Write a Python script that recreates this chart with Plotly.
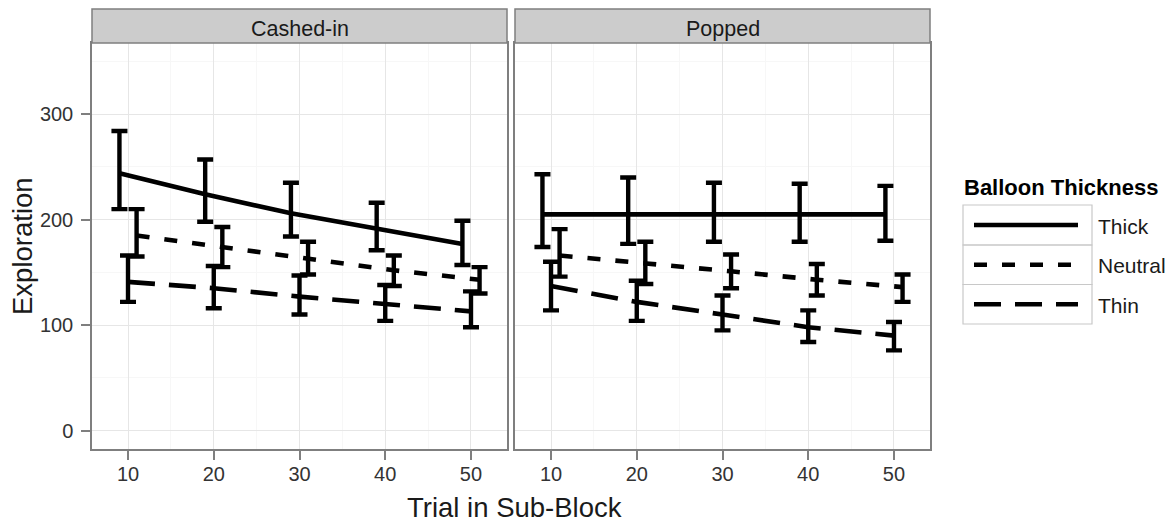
import plotly.graph_objects as go

# ---------------- data ----------------
trials = [10, 20, 30, 40, 50]
panels = ["Cashed-in", "Popped"]
series = ["Thick", "Neutral", "Thin"]

cashed_thick_mean = [244, 224, 206, 191, 177]
cashed_thick_lo = [210, 198, 184, 171, 157]
cashed_thick_hi = [284, 257, 235, 216, 199]

cashed_neutral_mean = [185, 174, 163, 152, 143]
cashed_neutral_lo = [165, 155, 148, 137, 130]
cashed_neutral_hi = [210, 193, 179, 166, 155]

cashed_thin_mean = [141, 135, 127, 120, 113]
cashed_thin_lo = [122, 116, 110, 104, 98]
cashed_thin_hi = [166, 156, 147, 138, 132]

popped_thick_mean = [205, 205, 205, 205, 205]
popped_thick_lo = [174, 177, 179, 179, 180]
popped_thick_hi = [243, 240, 235, 234, 232]

popped_neutral_mean = [166, 159, 151, 143, 136]
popped_neutral_lo = [146, 139, 135, 128, 122]
popped_neutral_hi = [191, 179, 167, 158, 148]

popped_thin_mean = [137, 122, 110, 98, 90]
popped_thin_lo = [114, 104, 95, 84, 76]
popped_thin_hi = [160, 142, 128, 114, 103]

y_ticks = [0, 100, 200, 300]
x_ticks = [10, 20, 30, 40, 50]

legend_title = "Balloon Thickness"
x_title = "Trial in Sub-Block"
y_title = "Exploration"

# ---------------- styling ----------------
DODGE = {"Thick": -1, "Thin": 0, "Neutral": 1}
DASH = {"Thick": "solid", "Neutral": "13px,15px", "Thin": "27px,14px"}
FONT = "Liberation Sans, Arial, sans-serif"
W, H = 1170, 531

data = {
    "Cashed-in": {
        "Thick": (cashed_thick_mean, cashed_thick_lo, cashed_thick_hi),
        "Neutral": (cashed_neutral_mean, cashed_neutral_lo, cashed_neutral_hi),
        "Thin": (cashed_thin_mean, cashed_thin_lo, cashed_thin_hi),
    },
    "Popped": {
        "Thick": (popped_thick_mean, popped_thick_lo, popped_thick_hi),
        "Neutral": (popped_neutral_mean, popped_neutral_lo, popped_neutral_hi),
        "Thin": (popped_thin_mean, popped_thin_lo, popped_thin_hi),
    },
}

fig = go.Figure()
for pi, panel in enumerate(panels):
    xa = "x" if pi == 0 else "x2"
    ya = "y" if pi == 0 else "y2"
    for s in series:
        mean, lo, hi = data[panel][s]
        fig.add_trace(go.Scatter(
            x=[t + DODGE[s] for t in trials], y=mean,
            mode="lines", name=s, legendgroup=s,
            showlegend=False,
            line=dict(color="black", width=4.6, dash=DASH[s]),
            error_y=dict(type="data", symmetric=False,
                         array=[h - m for h, m in zip(hi, mean)],
                         arrayminus=[m - l for m, l in zip(mean, lo)],
                         color="black", thickness=4.4, width=8),
            xaxis=xa, yaxis=ya,
        ))

px = lambda v: v / W
py = lambda v: 1 - v / H

ydom = [py(449), py(43)]
x1dom = [px(92), px(507)]
x2dom = [px(515), px(930)]

common_x = dict(range=[5.8, 54.2], tickvals=x_ticks, ticks="outside", ticklen=9,
                tickwidth=1.5, tickcolor="#7f7f7f", showline=True, mirror=True,
                linecolor="#7f7f7f", linewidth=1.5, showgrid=True, gridcolor="#e6e6e6",
                gridwidth=1, zeroline=False, ticklabelstandoff=-3,
                minor=dict(dtick=5, tick0=5, showgrid=True, gridcolor="#f7f7f7", ticklen=0),
                tickfont=dict(family=FONT, size=20, color="#333333"))
common_y = dict(range=[-17.5, 367.5], tickvals=y_ticks, showline=True, mirror=True,
                linecolor="#7f7f7f", linewidth=1.5, showgrid=True, gridcolor="#e6e6e6",
                gridwidth=1, zeroline=False, domain=ydom,
                minor=dict(dtick=50, tick0=50, showgrid=True, gridcolor="#f7f7f7", ticklen=0),
                tickfont=dict(family=FONT, size=20, color="#333333"))

fig.update_layout(
    width=W, height=H, margin=dict(l=0, r=0, t=0, b=0),
    paper_bgcolor="white", plot_bgcolor="white",
    font=dict(family=FONT, color="black"),
    xaxis=dict(domain=x1dom, anchor="y", **common_x),
    xaxis2=dict(domain=x2dom, anchor="y2", **common_x),
    yaxis=dict(anchor="x", ticks="outside", ticklen=9, tickwidth=1.5, tickcolor="#7f7f7f",
               ticklabelstandoff=4, **common_y),
    yaxis2=dict(anchor="x2", matches="y", showticklabels=False, ticks="", **common_y),
    showlegend=False,
)

shapes = []
annotations = []

# facet strips
for dom, panel in zip([x1dom, x2dom], panels):
    shapes.append(dict(type="rect", xref="paper", yref="paper",
                       x0=dom[0], x1=dom[1], y0=py(43), y1=py(9),
                       fillcolor="#cccccc", line=dict(color="#7f7f7f", width=1.5)))
    annotations.append(dict(text=panel, xref="paper", yref="paper",
                            x=(dom[0] + dom[1]) / 2, y=py(29), xanchor="center", yanchor="middle",
                            showarrow=False, font=dict(family=FONT, size=21.5, color="#1a1a1a")))

# legend (keys drawn in a ggplot-like boxed layout)
annotations.append(dict(text="<b>" + legend_title + "</b>", xref="paper", yref="paper",
                        x=px(962), y=py(187), xanchor="left", yanchor="middle",
                        showarrow=False, font=dict(family=FONT, size=22, color="black")))
rows = [(205, 245), (245, 284.5), (284.5, 324)]
for s, (top, bot) in zip(series, rows):
    mid = (top + bot) / 2
    shapes.append(dict(type="rect", xref="paper", yref="paper",
                       x0=px(963), x1=px(1092), y0=py(bot), y1=py(top),
                       fillcolor="rgba(0,0,0,0)", line=dict(color="#c8c8c8", width=1.2)))
    shapes.append(dict(type="line", xref="paper", yref="paper",
                       x0=px(974), x1=px(1078), y0=py(mid), y1=py(mid),
                       line=dict(color="black", width=4.6, dash=DASH[s])))
    annotations.append(dict(text=s, xref="paper", yref="paper",
                            x=px(1096), y=py(mid + 1), xanchor="left", yanchor="middle",
                            showarrow=False, font=dict(family=FONT, size=21, color="#1a1a1a")))

# axis titles
annotations.append(dict(text=y_title, xref="paper", yref="paper",
                        x=px(23), y=py(246), xanchor="center", yanchor="middle", textangle=-90,
                        showarrow=False, font=dict(family=FONT, size=27.5, color="#1a1a1a")))
annotations.append(dict(text=x_title, xref="paper", yref="paper",
                        x=px(514), y=py(507), xanchor="center", yanchor="middle",
                        showarrow=False, font=dict(family=FONT, size=27.5, color="#1a1a1a")))

fig.update_layout(shapes=shapes, annotations=annotations)
fig.write_html("out.html", config={"displayModeBar": False},
               post_script="document.body.style.margin='0px';")
